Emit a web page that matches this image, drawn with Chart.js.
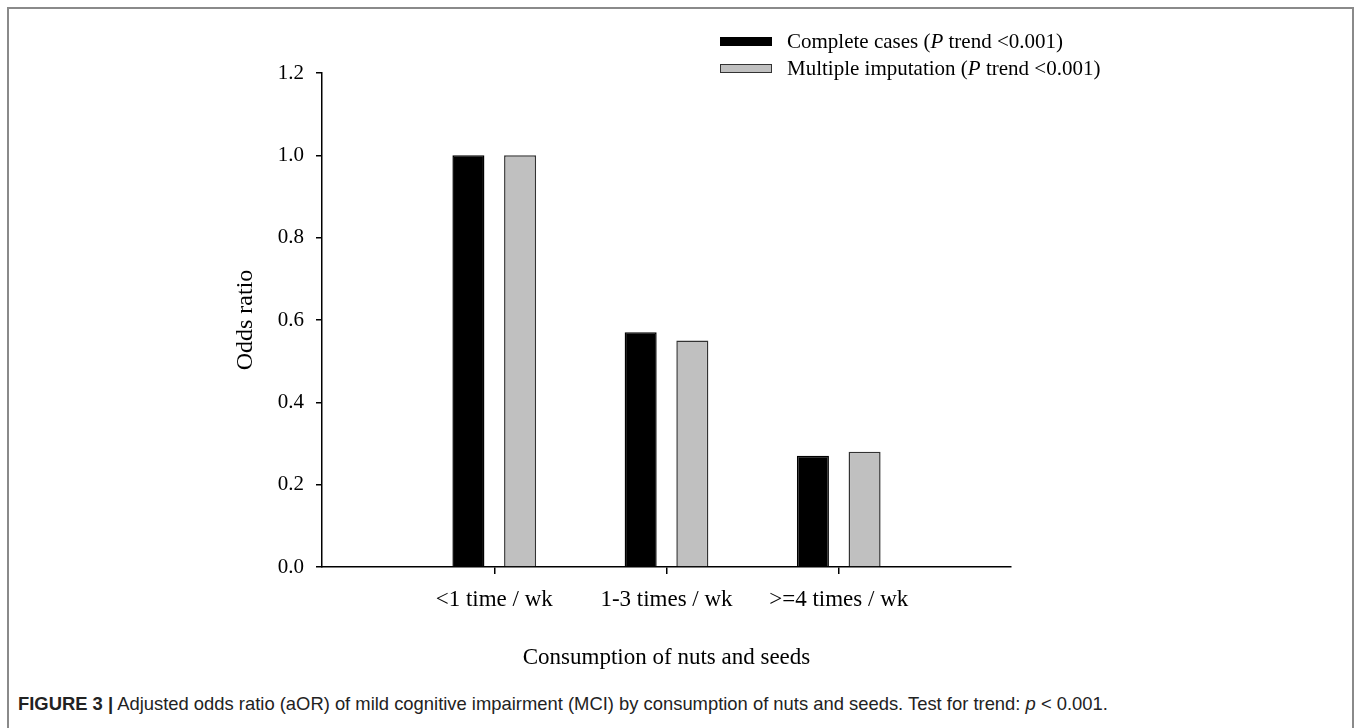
<!DOCTYPE html>
<html>
<head>
<meta charset="utf-8">
<script src="https://cdn.jsdelivr.net/npm/chart.js@4.4.1/dist/chart.umd.min.js"></script>
<style>
  body { margin: 0; background: #fff; }
  #page { position: relative; width: 1358px; height: 728px; overflow: hidden; background: #fff; }
  #frame { position: absolute; left: 7px; top: 7px; width: 1347px; height: 730px;
           border: 2px solid #8a8a8a; border-bottom: none; box-sizing: border-box; }
  #wrap { position: absolute; left: 0; top: 0; width: 1358px; height: 680px; }
  .leg { position: absolute; left: 720px; font-family: "Liberation Serif", serif; font-size: 21px; color: #000; white-space: nowrap; }
  .leg span.box { position: absolute; left: 0; width: 52px; height: 9px; box-sizing: border-box; }
  .leg span.txt { position: absolute; left: 67px; top: -8px; }
  #caption { position: absolute; left: 18px; top: 693px; font-family: "Liberation Sans", Arial, sans-serif;
             font-size: 18.4px; color: #222; white-space: nowrap; }
</style>
</head>
<body>
<div id="page">
  <div id="frame"></div>
  <div id="wrap"><canvas id="orChart"></canvas></div>
  <div id="legend"></div>
  <div id="caption"><b>FIGURE 3 |</b> Adjusted odds ratio (aOR) of mild cognitive impairment (MCI) by consumption of nuts and seeds. Test for trend: <i>p</i> &lt; 0.001.</div>
</div>
<script>
// Данные
const categories = ['<1 time / wk', '1-3 times / wk', '>=4 times / wk'];
const completeCases = [1.0, 0.57, 0.27];
const multipleImputation = [1.0, 0.55, 0.28];
const yTicks = [0.0, 0.2, 0.4, 0.6, 0.8, 1.0, 1.2];

const seriesNames = ['Complete cases', 'Multiple imputation'];
const seriesFill = ['#000000', '#c0c0c0'];
const seriesBorder = ['#000000', '#333333'];

// пустые позиции по краям оси, как на рисунке
const pad = arr => [null, ...arr, null];
const labels = ['', ...categories, ''];

// Легенда (HTML, чтобы P было курсивом)
const legend = document.getElementById('legend');
seriesNames.forEach((name, i) => {
  const item = document.createElement('div');
  item.className = 'leg';
  item.style.top = (37 + i * 27) + 'px';
  item.innerHTML = '<span class="box" style="background:' + seriesFill[i] +
    ';border:1px solid ' + seriesBorder[i] + '"></span><span class="txt">' + name +
    ' (<i>P</i> trend &lt;0.001)</span>';
  legend.appendChild(item);
});

const serif = 'Liberation Serif';

new Chart(document.getElementById('orChart'), {
  type: 'bar',
  data: {
    labels: labels,
    datasets: [
      { label: seriesNames[0], data: pad(completeCases), backgroundColor: seriesFill[0], borderColor: seriesBorder[0], borderWidth: 1.5 },
      { label: seriesNames[1], data: pad(multipleImputation), backgroundColor: seriesFill[1], borderColor: seriesBorder[1], borderWidth: 1.5 }
    ]
  },
  options: {
    responsive: true,
    maintainAspectRatio: false,
    animation: false,
    categoryPercentage: 0.6,
    barPercentage: 0.62,
    layout: { padding: { left: 222, top: 73, right: 347, bottom: 0 } },
    plugins: { legend: { display: false }, tooltip: { enabled: false } },
    scales: {
      x: {
        offset: false,
        afterFit: s => { s.height = 113; },
        grid: {
          offset: false,
          drawOnChartArea: false,
          tickLength: 7,
          lineWidth: 1.5,
          color: c => (c.index === 0 || c.index === labels.length - 1) ? 'rgba(0,0,0,0)' : '#000'
        },
        border: { color: '#000', width: 1.5 },
        ticks: { color: '#000', padding: 12, maxRotation: 0, autoSkip: false, font: { family: serif, size: 23 } },
        title: { display: true, text: 'Consumption of nuts and seeds', color: '#000', padding: { top: 0, bottom: 8 }, font: { family: serif, size: 23 } }
      },
      y: {
        min: 0,
        max: 1.2,
        afterFit: s => { s.width = 100; },
        afterBuildTicks: s => { s.ticks = yTicks.map(v => ({ value: v })); },
        grid: { drawOnChartArea: false, tickLength: 6, lineWidth: 1.5, color: '#000' },
        border: { color: '#000', width: 1.5 },
        ticks: { color: '#000', padding: 12, font: { family: serif, size: 21 }, callback: v => v.toFixed(1) },
        title: { display: true, text: 'Odds ratio', color: '#000', padding: { top: 9, bottom: 0 }, font: { family: serif, size: 24 } }
      }
    }
  }
});
</script>
</body>
</html>
